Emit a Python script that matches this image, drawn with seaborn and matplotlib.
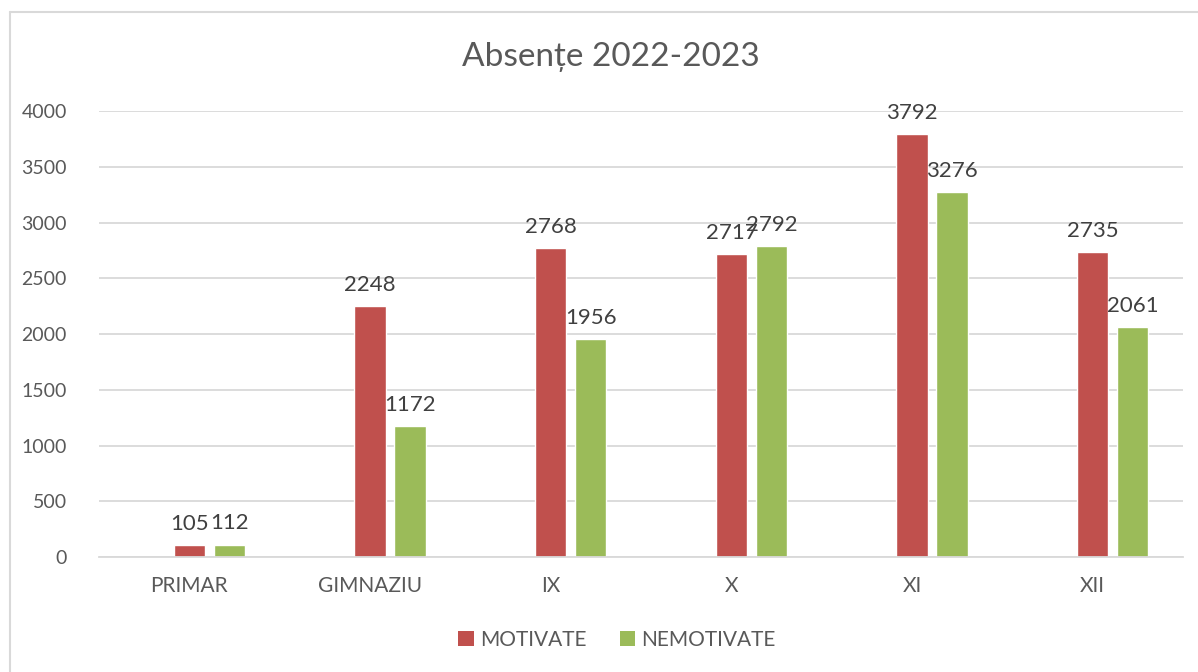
import seaborn as sns
import matplotlib.pyplot as plt
import pandas as pd
from matplotlib.lines import Line2D
from matplotlib.patches import Patch

categorii = ["PRIMAR", "GIMNAZIU", "IX", "X", "XI", "XII"]
motivate = [105, 2248, 2768, 2717, 3792, 2735]
nemotivate = [112, 1172, 1956, 2792, 3276, 2061]
serii = ["MOTIVATE", "NEMOTIVATE"]
culori = {"gol": "white", "MOTIVATE": "#C0504D", "NEMOTIVATE": "#9BBB59"}


def main():
    df = pd.DataFrame({
        "Clasa": categorii * 2,
        "Serie": ["MOTIVATE"] * len(categorii) + ["NEMOTIVATE"] * len(categorii),
        "Absente": motivate + nemotivate,
    })

    sns.set_style("white")
    plt.rcParams["font.family"] = ["Lato", "DejaVu Sans"]

    fig = plt.figure(figsize=(11.98, 6.72), dpi=100)
    ax = fig.add_axes([0.0826, 0.1711, 0.905, 0.6637])

    # seria "gol" lipseste din date, dar ocupa un loc -> rosu centrat pe categorie
    sns.barplot(data=df, x="Clasa", y="Absente", hue="Serie",
                hue_order=["gol"] + serii, palette=culori, order=categorii,
                width=0.664, gap=0.22, saturation=1, legend=False, ax=ax,
                errorbar=None)

    for c in ax.containers:
        if len(c) > 0:
            ax.bar_label(c, padding=8, fontsize=16, color="#404040")

    ax.set_ylim(0, 4000)
    ax.set_yticks(range(0, 4001, 500))
    ax.yaxis.grid(True, color="#D9D9D9", linewidth=1.3)
    ax.set_axisbelow(True)
    for s in ["top", "right", "left"]:
        ax.spines[s].set_visible(False)
    ax.spines["bottom"].set_color("#D9D9D9")
    ax.spines["bottom"].set_linewidth(1.3)
    ax.tick_params(axis="y", length=0, pad=23, labelsize=14, labelcolor="#595959")
    ax.tick_params(axis="x", length=0, pad=14, labelsize=15, labelcolor="#595959")
    ax.set_xlabel("")
    ax.set_ylabel("")

    fig.text(0.51, 0.915, "Absențe 2022-2023", ha="center", va="center",
             fontsize=24, color="#595959")

    handles = [Patch(facecolor=culori[s], edgecolor="none") for s in serii]
    fig.legend(handles, serii, loc="center", bbox_to_anchor=(0.515, 0.0476),
               ncol=2, frameon=False, fontsize=15, labelcolor="#595959",
               handlelength=0.75, handleheight=0.75, handletextpad=0.3,
               columnspacing=1.6)

    # chenarul graficului (stanga si sus)
    fig.add_artist(Line2D([10 / 1198, 10 / 1198], [0, 1 - 12 / 672],
                          color="#D9D9D9", linewidth=1.5))
    fig.add_artist(Line2D([10 / 1198, 1], [1 - 12 / 672, 1 - 12 / 672],
                          color="#D9D9D9", linewidth=1.5))

    fig.savefig("out.png", dpi=100)


main()
